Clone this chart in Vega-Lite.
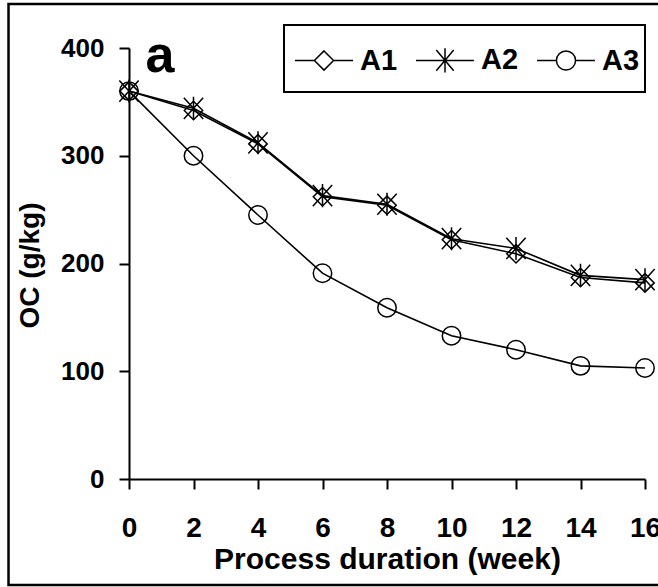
{
  "$schema": "https://vega.github.io/schema/vega-lite/v6.json",
  "width": 516,
  "height": 431,
  "autosize": {"type": "none"},
  "padding": {"left": 129, "top": 48, "right": 13, "bottom": 108},
  "background": "white",
  "config": {
    "view": {"stroke": null},
    "font": "Liberation Sans",
    "legend": {"strokeWidth": 2},
    "axis": {
      "grid": false,
      "domainColor": "black",
      "domainWidth": 2,
      "tickColor": "black",
      "tickWidth": 2,
      "tickSize": 10,
      "labelColor": "black",
      "labelFont": "Liberation Sans",
      "labelFontWeight": "bold",
      "titleColor": "black",
      "titleFont": "Liberation Sans",
      "titleFontWeight": "bold",
      "labelFlush": false,
      "labelOverlap": false,
      "labelBound": false
    }
  },
  "data": {
    "values": [
      {"week": 0, "series": "A1", "value": 360},
      {"week": 2, "series": "A1", "value": 342},
      {"week": 4, "series": "A1", "value": 311},
      {"week": 6, "series": "A1", "value": 262},
      {"week": 8, "series": "A1", "value": 254},
      {"week": 10, "series": "A1", "value": 222},
      {"week": 12, "series": "A1", "value": 209},
      {"week": 14, "series": "A1", "value": 187},
      {"week": 16, "series": "A1", "value": 182},
      {"week": 0, "series": "A2", "value": 360},
      {"week": 2, "series": "A2", "value": 344},
      {"week": 4, "series": "A2", "value": 312},
      {"week": 6, "series": "A2", "value": 263},
      {"week": 8, "series": "A2", "value": 255},
      {"week": 10, "series": "A2", "value": 223},
      {"week": 12, "series": "A2", "value": 214},
      {"week": 14, "series": "A2", "value": 189},
      {"week": 16, "series": "A2", "value": 185},
      {"week": 0, "series": "A3", "value": 360},
      {"week": 2, "series": "A3", "value": 300},
      {"week": 4, "series": "A3", "value": 245},
      {"week": 6, "series": "A3", "value": 191},
      {"week": 8, "series": "A3", "value": 159},
      {"week": 10, "series": "A3", "value": 133},
      {"week": 12, "series": "A3", "value": 120},
      {"week": 14, "series": "A3", "value": 105},
      {"week": 16, "series": "A3", "value": 103}
    ]
  },
  "resolve": {"scale": {"shape": "independent"}, "legend": {"shape": "independent"}},
  "layer": [
    {
      "data": {"values": [{"frame": "border"}]},
      "mark": {"type": "rect", "filled": false, "stroke": "black", "strokeWidth": 2.5, "clip": false},
      "encoding": {
        "x": {"datum": -3.736, "type": "quantitative"},
        "x2": {"datum": 16.8},
        "y": {"datum": -98.4, "type": "quantitative"},
        "y2": {"datum": 440.8}
      }
    },
    {
      "mark": {"type": "line", "color": "black", "strokeWidth": 1.6},
      "encoding": {
        "x": {
          "field": "week",
          "type": "quantitative",
          "scale": {"domain": [0, 16], "nice": false, "zero": false},
          "axis": {
            "values": [0, 2, 4, 6, 8, 10, 12, 14, 16],
            "labelFontSize": 28,
            "labelPadding": 25,
            "title": "Process duration (week)",
            "titleFontSize": 30,
            "titleBaseline": "alphabetic",
            "titleY": 89
          }
        },
        "y": {
          "field": "value",
          "type": "quantitative",
          "scale": {"domain": [0, 400], "nice": false},
          "axis": {
            "values": [0, 100, 200, 300, 400],
            "labelFontSize": 26,
            "labelPadding": 15,
            "title": "OC (g/kg)",
            "titleFontSize": 28,
            "titleAngle": -90,
            "titleBaseline": "alphabetic",
            "titleX": -91,
            "titleY": 217
          }
        },
        "detail": {"field": "series"}
      }
    },
    {
      "mark": {"type": "point", "filled": false, "color": "black", "strokeWidth": 1.5, "size": 340, "opacity": 1},
      "encoding": {
        "x": {"field": "week", "type": "quantitative"},
        "y": {"field": "value", "type": "quantitative"},
        "shape": {
          "field": "series",
          "type": "nominal",
          "scale": {
            "domain": ["A1", "A2", "A3"],
            "range": ["diamond", "M-1.05,-1.15L1.05,1.15M-1.05,1.15L1.05,-1.15M0,-1.25L0,1.25", "circle"]
          },
          "legend": null
        }
      }
    },
    {
      "mark": {"type": "point", "filled": false, "color": "black", "strokeWidth": 1.5, "size": 3364, "opacity": 0},
      "encoding": {
        "x": {"field": "week", "type": "quantitative"},
        "y": {"field": "value", "type": "quantitative"},
        "shape": {
          "field": "series",
          "type": "nominal",
          "scale": {
            "domain": ["A1", "A2", "A3"],
            "range": [
              "M-1,0H-0.33M0.33,0H1M0,-0.33L0.33,0L0,0.33L-0.33,0Z",
              "M-1,0H1M-0.3,-0.36L0.3,0.36M-0.3,0.36L0.3,-0.36M0,-0.42L0,0.42",
              "M-1,0H-0.33M0.33,0H1M-0.33,0A0.33,0.33,0,1,0,0.33,0A0.33,0.33,0,1,0,-0.33,0Z"
            ]
          },
          "legend": {
            "orient": "none",
            "legendX": 155,
            "legendY": -23,
            "direction": "horizontal",
            "columns": 3,
            "title": " ",
            "titleOrient": "bottom",
            "titleFontSize": 12,
            "titlePadding": 0,
            "strokeColor": "black",
            "fillColor": "white",
            "padding": 5,
            "symbolSize": 3364,
            "symbolStrokeWidth": 1.5,
            "symbolStrokeColor": "black",
            "symbolFillColor": "white",
            "symbolOpacity": 1,
            "symbolOffset": 5,
            "labelOffset": 6,
            "labelFontSize": 29,
            "labelFontWeight": "bold",
            "labelFont": "Liberation Sans",
            "labelColor": "black",
            "labelBaseline": "middle",
            "columnPadding": 12,
            "encode": {
              "legend": {"strokeWidth": {"value": 2}}
            }
          }
        }
      }
    },
    {
      "data": {"values": [{"label": "a"}]},
      "mark": {"type": "text", "fontSize": 52, "fontWeight": "bold", "font": "Liberation Sans", "align": "center", "baseline": "alphabetic", "color": "black"},
      "encoding": {
        "text": {"field": "label"},
        "x": {"datum": 0.96, "type": "quantitative"},
        "y": {"datum": 377.7, "type": "quantitative"}
      }
    }
  ]
}
